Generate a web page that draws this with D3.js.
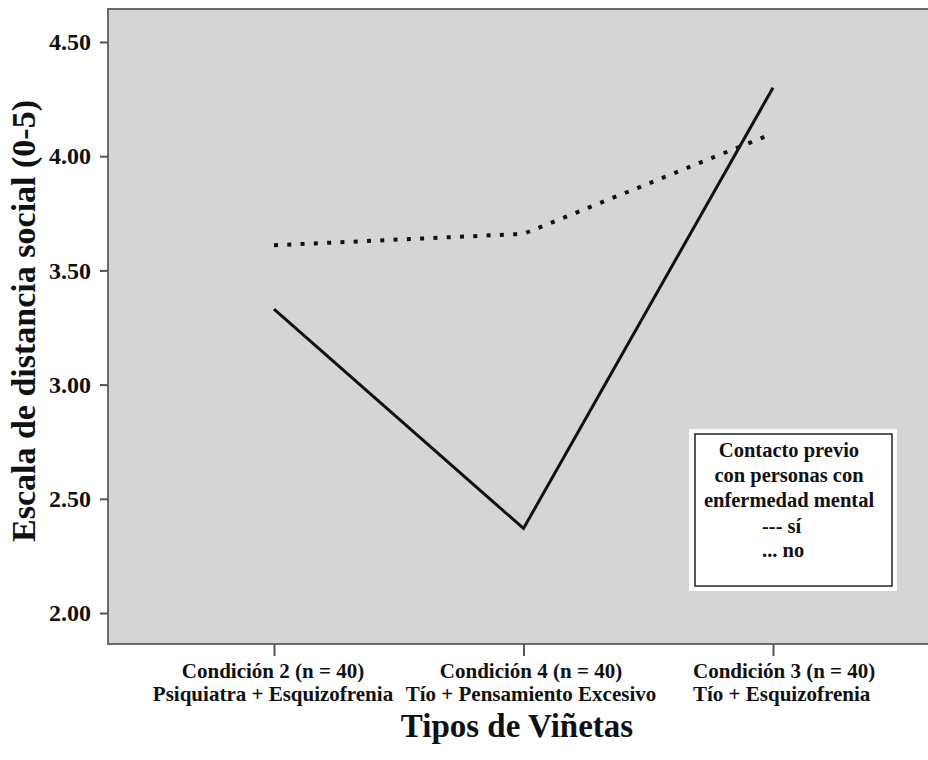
<!DOCTYPE html>
<html>
<head>
<meta charset="utf-8">
<script src="https://cdn.jsdelivr.net/npm/d3@7"></script>
<style>
  body { margin: 0; background: #fff; }
  text { font-family: "Liberation Serif", "Times New Roman", serif; font-weight: bold; fill: #111; }
</style>
</head>
<body>
<div id="chart"></div>
<script>
var categories = ["Condición 2 (n = 40)", "Condición 4 (n = 40)", "Condición 3 (n = 40)"]
var subLabels = ["Psiquiatra + Esquizofrenia", "Tío + Pensamiento Excesivo", "Tío + Esquizofrenia"]
var siValues = [3.33, 2.37, 4.30]
var noValues = [3.61, 3.66, 4.10]
var yTicks = [2.00, 2.50, 3.00, 3.50, 4.00, 4.50]
var legendLines = ["Contacto previo", "con personas con", "enfermedad mental"]
var legendKeys = ["--- sí", "... no"]

var width = 928
var height = 760
var plotLeft = 108
var plotTop = 9
var plotBottom = 644

var svg = d3.select("#chart").append("svg")
  .attr("width", width)
  .attr("height", height)

var x = d3.scalePoint()
  .domain(categories)
  .range([274, 773])

var y = d3.scaleLinear()
  .domain([2, 4.5])
  .range([613, 42])

// plot background
svg.append("rect")
  .attr("x", plotLeft)
  .attr("y", plotTop)
  .attr("width", width - plotLeft + 10)
  .attr("height", plotBottom - plotTop)
  .attr("fill", "#d5d5d5")
  .attr("stroke", "#6a6a6a")
  .attr("stroke-width", 2)

// y axis
var yAxis = svg.append("g")
  .attr("transform", "translate(" + plotLeft + ",0)")
  .call(d3.axisLeft(y).tickValues(yTicks).tickSize(8).tickPadding(9).tickFormat(d3.format(".2f")))
yAxis.select(".domain").remove()
yAxis.selectAll("line").attr("stroke", "#555").attr("stroke-width", 2)
yAxis.selectAll("text")
  .attr("style", "font-size:24px;font-family:'Liberation Serif',serif;font-weight:bold;")
  .attr("fill", "#111")

// x axis
var xAxis = svg.append("g")
  .attr("transform", "translate(0," + plotBottom + ")")
  .call(d3.axisBottom(x).tickSize(12).tickFormat(""))
xAxis.select(".domain").remove()
xAxis.selectAll("line").attr("stroke", "#555").attr("stroke-width", 2)

// first two labels centred, last one left aligned like the original
var labelX = [273, 531, 693]
var labelAnchor = ["middle", "middle", "start"]
var xLabels = svg.append("g")
xLabels.selectAll("text.cat")
  .data(categories)
  .enter()
  .append("text")
  .attr("class", "cat")
  .attr("x", function (d, i) { return labelX[i] })
  .attr("y", 678)
  .attr("text-anchor", function (d, i) { return labelAnchor[i] })
  .attr("style", "font-size:21px;")
  .text(function (d) { return d })
xLabels.selectAll("text.sub")
  .data(subLabels)
  .enter()
  .append("text")
  .attr("class", "sub")
  .attr("x", function (d, i) { return labelX[i] })
  .attr("y", 701)
  .attr("text-anchor", function (d, i) { return labelAnchor[i] })
  .attr("style", "font-size:21px;")
  .text(function (d) { return d })

// axis titles
svg.append("text")
  .attr("x", 517)
  .attr("y", 737)
  .attr("text-anchor", "middle")
  .attr("style", "font-size:33px;")
  .text("Tipos de Viñetas")

svg.append("text")
  .attr("transform", "translate(35,321) rotate(-90)")
  .attr("text-anchor", "middle")
  .attr("style", "font-size:34px;")
  .text("Escala de distancia social (0-5)")

// lines
var line = d3.line()
  .x(function (d, i) { return x(categories[i]) })
  .y(function (d) { return y(d) })

svg.append("path")
  .datum(siValues)
  .attr("d", line)
  .attr("fill", "none")
  .attr("stroke", "#111")
  .attr("stroke-width", 3)

svg.append("path")
  .datum(noValues)
  .attr("d", line)
  .attr("fill", "none")
  .attr("stroke", "#111")
  .attr("stroke-width", 4)
  .attr("stroke-dasharray", "4,9.3")

// legend
var legend = svg.append("g")
legend.append("rect")
  .attr("x", 689).attr("y", 429)
  .attr("width", 208).attr("height", 162)
  .attr("fill", "#fff")
legend.append("rect")
  .attr("x", 695).attr("y", 434)
  .attr("width", 197).attr("height", 152)
  .attr("fill", "#fff")
  .attr("stroke", "#222")
  .attr("stroke-width", 1.5)
legend.selectAll("text.head")
  .data(legendLines)
  .enter()
  .append("text")
  .attr("class", "head")
  .attr("x", 789)
  .attr("y", function (d, i) { return 457 + i * 25 })
  .attr("text-anchor", "middle")
  .attr("style", "font-size:20.5px;")
  .text(function (d) { return d })
legend.selectAll("text.key")
  .data(legendKeys)
  .enter()
  .append("text")
  .attr("class", "key")
  .attr("x", 762)
  .attr("y", function (d, i) { return 533 + i * 24 })
  .attr("style", "font-size:20.5px;")
  .text(function (d) { return d })
</script>
</body>
</html>
